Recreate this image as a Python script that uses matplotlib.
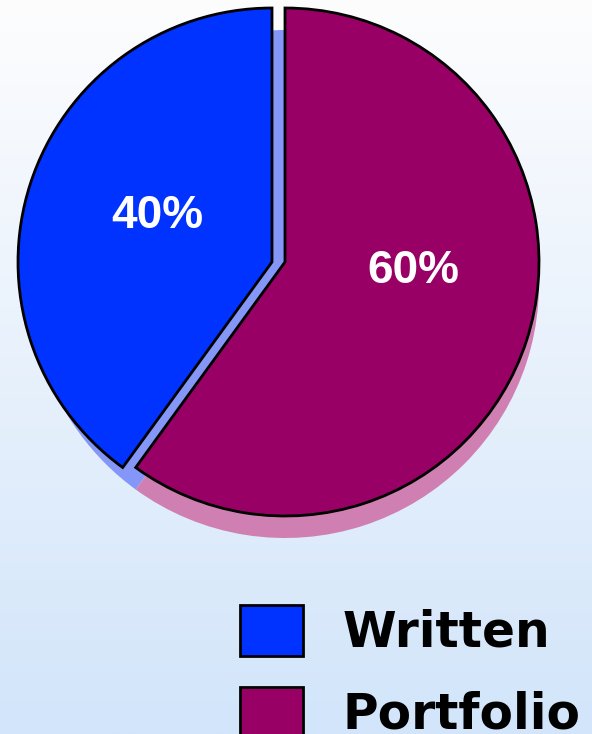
import matplotlib
matplotlib.use('Agg')
import matplotlib.pyplot as plt
import numpy as np
from matplotlib.colors import LinearSegmentedColormap

# ---- data ----
categories = ['Written', 'Portfolio']
shares = [40, 60]
colors = ['#0033FF', '#990066']
shadow_colors = ['#8496F8', '#CF7FB2']

# ---- layout (pixels) ----
W, H = 592, 734
cx, cy = 285, H - 262
radius = 254
explode_px = 13          # Written slice pulled left
shadow_dy = 22           # shadow drop

fig = plt.figure(figsize=(W / 100, H / 100), dpi=100)

# background gradient
bg = fig.add_axes([0, 0, 1, 1])
bg.axis('off')
grad = np.linspace(0, 1, 256)[:, None]
cmap = LinearSegmentedColormap.from_list('bg', ['#FDFDFE', '#D2E5FA'])
bg.imshow(grad, aspect='auto', cmap=cmap, extent=[0, 1, 0, 1])

ax = fig.add_axes([0, 0, 1, 1])
ax.patch.set_alpha(0)

# shadow
ax.pie(shares, colors=shadow_colors, startangle=90, radius=radius,
       center=(cx, cy - shadow_dy), wedgeprops=dict(linewidth=0))

# main pie
wedges, texts, autotexts = ax.pie(
    shares, colors=colors, startangle=90, radius=radius, center=(cx, cy),
    autopct='%d%%', pctdistance=0.5,
    wedgeprops=dict(edgecolor='black', linewidth=2.0),
    textprops=dict(color='white', fontsize=33, fontweight='bold',
                   family='Liberation Sans'))
wedges[0].set_center((cx - explode_px, cy))

label_offsets = [(-115 - explode_px, 34), (128, -21)]
for t, (dx, dy) in zip(autotexts, label_offsets):
    t.set_position((cx + dx, cy + dy))
    t.set_ha('center')
    t.set_va('baseline')

ax.set_xlim(0, W)
ax.set_ylim(0, H)
ax.set_aspect('auto')
ax.axis('off')

fs = 35
leg = ax.legend(wedges, categories, loc='upper left',
                bbox_to_anchor=(240 / W, 1 - 605 / H),
                bbox_transform=fig.transFigure,
                frameon=False, borderpad=0, borderaxespad=0,
                handlelength=1.30, handleheight=1.24, handletextpad=0.80,
                labelspacing=0.62,
                prop=dict(family='DejaVu Sans', weight='bold', size=fs))

fig.savefig('out.png', dpi=100)
